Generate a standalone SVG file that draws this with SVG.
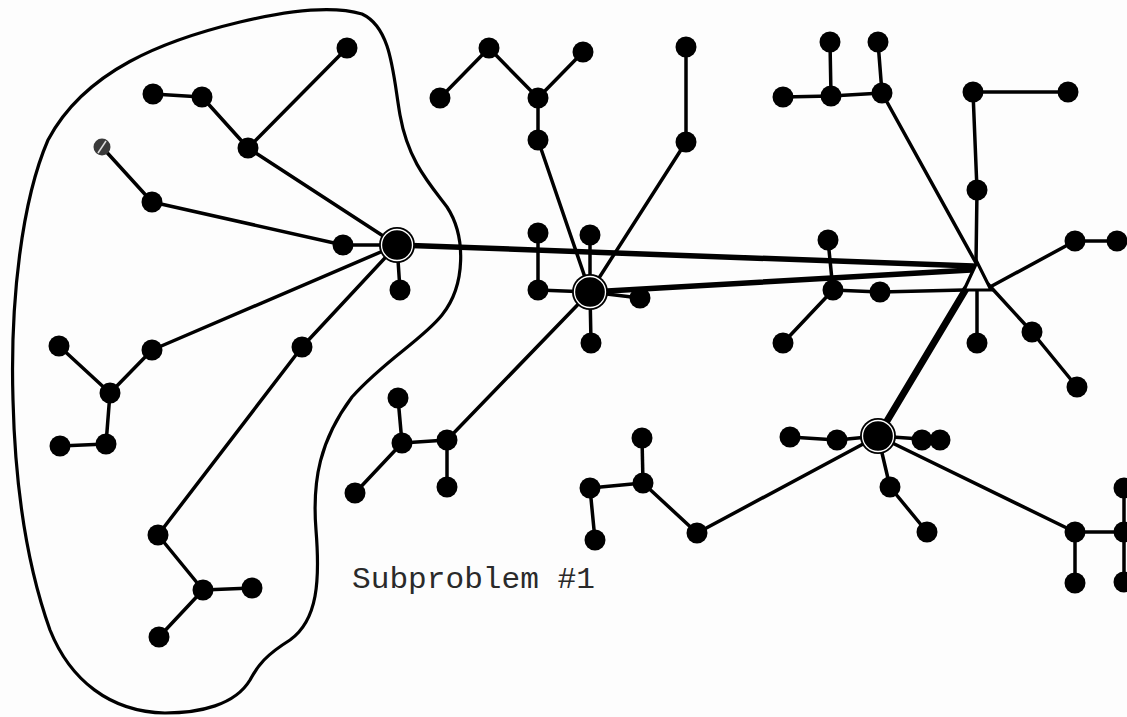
<svg xmlns="http://www.w3.org/2000/svg" width="1127" height="717" viewBox="0 0 1127 717">
  <style>
    .e { stroke: #000; stroke-width: 3.5; stroke-linecap: round; fill: none; }
    .t { stroke: #000; stroke-width: 5.5; stroke-linecap: round; fill: none; }
    .tt { stroke: #000; stroke-width: 7; stroke-linecap: round; fill: none; }
    .n { fill: #000; }
    .h { fill: #000; }
    .ring { fill: none; stroke: #fff; stroke-width: 1.3; }
    .blob { fill: none; stroke: #000; stroke-width: 3.2; }
    .lbl { font-family: "Liberation Mono", "Courier New", monospace; font-size: 30px; fill: #2a2a2a; }
  </style>
  <rect width="1127" height="717" fill="#fdfdfd"/>

  <!-- boundary of subproblem 1 -->
  <path id="subproblem-1-boundary" class="blob" d="M 13,400 C 10,300 22,200 48,140 C 85,70 165,40 240,22 C 290,10 335,6 362,14 C 392,28 393,75 400,115 C 408,160 428,182 447,207 C 466,236 466,285 442,315 C 422,340 385,360 352,397 C 320,440 312,480 316,530 C 320,580 318,620 290,640 C 266,655 258,665 250,680 C 235,705 200,713 165,713 C 110,712 70,680 50,630 C 25,560 15,480 13,400 Z"/>

  <g id="connectors">
    <!-- hub 1 tree -->
    <line class="e" x1="153" y1="94" x2="202" y2="97"/>
    <line class="e" x1="202" y1="97" x2="248" y2="148"/>
    <line class="e" x1="248" y1="148" x2="347" y2="48"/>
    <line class="e" x1="248" y1="148" x2="397" y2="245"/>
    <line class="e" x1="102" y1="147" x2="152" y2="202"/>
    <line class="e" x1="152" y1="202" x2="343" y2="245"/>
    <line class="e" x1="343" y1="245" x2="397" y2="245"/>
    <line class="e" x1="397" y1="245" x2="400" y2="290"/>
    <line class="e" x1="397" y1="245" x2="152" y2="350"/>
    <line class="e" x1="152" y1="350" x2="110" y2="393"/>
    <line class="e" x1="110" y1="393" x2="59" y2="346"/>
    <line class="e" x1="110" y1="393" x2="106" y2="444"/>
    <line class="e" x1="106" y1="444" x2="60" y2="446"/>
    <line class="e" x1="397" y1="245" x2="302" y2="347"/>
    <line class="e" x1="302" y1="347" x2="158" y2="535"/>
    <line class="e" x1="158" y1="535" x2="203" y2="590"/>
    <line class="e" x1="203" y1="590" x2="252" y2="588"/>
    <line class="e" x1="203" y1="590" x2="159" y2="637"/>

    <!-- hub 2 tree -->
    <line class="e" x1="440" y1="98" x2="489" y2="48"/>
    <line class="e" x1="489" y1="48" x2="538" y2="98"/>
    <line class="e" x1="538" y1="98" x2="583" y2="52"/>
    <line class="e" x1="538" y1="98" x2="538" y2="140"/>
    <line class="e" x1="538" y1="140" x2="590" y2="292"/>
    <line class="e" x1="686" y1="47" x2="686" y2="142"/>
    <line class="e" x1="686" y1="142" x2="590" y2="292"/>
    <line class="e" x1="538" y1="233" x2="538" y2="290"/>
    <line class="e" x1="538" y1="290" x2="590" y2="292"/>
    <line class="e" x1="590" y1="235" x2="590" y2="292"/>
    <line class="e" x1="590" y1="292" x2="640" y2="298"/>
    <line class="e" x1="590" y1="292" x2="591" y2="343"/>
    <line class="e" x1="590" y1="292" x2="447" y2="440"/>
    <line class="e" x1="447" y1="440" x2="402" y2="443"/>
    <line class="e" x1="402" y1="443" x2="398" y2="398"/>
    <line class="e" x1="402" y1="443" x2="355" y2="493"/>
    <line class="e" x1="447" y1="440" x2="447" y2="487"/>

    <!-- trunk lines into the junction -->
    <line class="t" x1="397" y1="245" x2="973" y2="266"/>
    <line class="t" x1="590" y1="292" x2="971" y2="270"/>
    <line class="tt" x1="966" y1="289" x2="878" y2="436"/>

    <!-- upper right trees -->
    <line class="e" x1="783" y1="97" x2="831" y2="96"/>
    <line class="e" x1="831" y1="96" x2="882" y2="93"/>
    <line class="e" x1="830" y1="42" x2="831" y2="96"/>
    <line class="e" x1="878" y1="42" x2="882" y2="93"/>
    <line class="e" x1="882" y1="93" x2="976" y2="263"/>
    <line class="e" x1="973" y1="92" x2="1068" y2="92"/>
    <line class="e" x1="973" y1="92" x2="977" y2="190"/>
    <line class="e" x1="977" y1="190" x2="976" y2="263"/>
    <line class="e" x1="977" y1="290" x2="977" y2="343"/>
    <line class="e" x1="990" y1="287" x2="1075" y2="241"/>
    <line class="e" x1="1075" y1="241" x2="1117" y2="241"/>
    <line class="e" x1="988" y1="284" x2="1032" y2="332"/>
    <line class="e" x1="1032" y1="332" x2="1077" y2="387"/>
    <line class="e" x1="828" y1="240" x2="833" y2="290"/>
    <line class="e" x1="833" y1="290" x2="783" y2="343"/>
    <line class="e" x1="833" y1="290" x2="880" y2="292"/>
    <line class="e" x1="880" y1="292" x2="964" y2="290"/>

    <!-- hub 4 tree -->
    <line class="e" x1="790" y1="437" x2="837" y2="440"/>
    <line class="e" x1="837" y1="440" x2="878" y2="436"/>
    <line class="e" x1="878" y1="436" x2="935" y2="440"/>
    <line class="e" x1="878" y1="436" x2="890" y2="487"/>
    <line class="e" x1="890" y1="487" x2="927" y2="532"/>
    <line class="e" x1="878" y1="436" x2="697" y2="533"/>
    <line class="e" x1="697" y1="533" x2="643" y2="483"/>
    <line class="e" x1="643" y1="483" x2="642" y2="438"/>
    <line class="e" x1="643" y1="483" x2="590" y2="488"/>
    <line class="e" x1="590" y1="488" x2="595" y2="540"/>
    <line class="e" x1="878" y1="436" x2="1075" y2="532"/>
    <line class="e" x1="1075" y1="532" x2="1075" y2="583"/>
    <line class="e" x1="1075" y1="532" x2="1124" y2="532"/>
    <line class="e" x1="1124" y1="488" x2="1124" y2="582"/>
  </g>

  <!-- junction -->
  <g id="junction">
    <polygon points="977,262 964,290 991,290" fill="#fff" stroke="#000" stroke-width="3.2" stroke-linejoin="miter"/>
  </g>

  <!-- hubs -->
  <g id="hub-1"><circle class="h" cx="397" cy="245" r="18"/><circle class="ring" cx="397" cy="245" r="15.5"/></g>
  <g id="hub-2"><circle class="h" cx="590" cy="292" r="18"/><circle class="ring" cx="590" cy="292" r="15.5"/></g>
  <g id="hub-4"><circle class="h" cx="878" cy="436" r="18"/><circle class="ring" cx="878" cy="436" r="15.5"/></g>

  <!-- nodes -->
  <g id="n-347-48"><circle class="n" cx="347" cy="48" r="10.5"/></g>
  <g id="n-153-94"><circle class="n" cx="153" cy="94" r="10.5"/></g>
  <g id="n-202-97"><circle class="n" cx="202" cy="97" r="10.5"/></g>
  <g id="n-248-148"><circle class="n" cx="248" cy="148" r="10.5"/></g>
  <g id="n-102-147"><circle cx="102" cy="147" r="8.5" fill="#3a3a3a"/><line x1="98" y1="153" x2="106" y2="141" stroke="#ddd" stroke-width="1.5"/></g>
  <g id="n-152-202"><circle class="n" cx="152" cy="202" r="10.5"/></g>
  <g id="n-343-245"><circle class="n" cx="343" cy="245" r="10.5"/></g>
  <g id="n-400-290"><circle class="n" cx="400" cy="290" r="10.5"/></g>
  <g id="n-152-350"><circle class="n" cx="152" cy="350" r="10.5"/></g>
  <g id="n-59-346"><circle class="n" cx="59" cy="346" r="10.5"/></g>
  <g id="n-110-393"><circle class="n" cx="110" cy="393" r="10.5"/></g>
  <g id="n-106-444"><circle class="n" cx="106" cy="444" r="10.5"/></g>
  <g id="n-60-446"><circle class="n" cx="60" cy="446" r="10.5"/></g>
  <g id="n-302-347"><circle class="n" cx="302" cy="347" r="10.5"/></g>
  <g id="n-158-535"><circle class="n" cx="158" cy="535" r="10.5"/></g>
  <g id="n-203-590"><circle class="n" cx="203" cy="590" r="10.5"/></g>
  <g id="n-252-588"><circle class="n" cx="252" cy="588" r="10.5"/></g>
  <g id="n-159-637"><circle class="n" cx="159" cy="637" r="10.5"/></g>

  <g id="n-440-98"><circle class="n" cx="440" cy="98" r="10.5"/></g>
  <g id="n-489-48"><circle class="n" cx="489" cy="48" r="10.5"/></g>
  <g id="n-538-98"><circle class="n" cx="538" cy="98" r="10.5"/></g>
  <g id="n-583-52"><circle class="n" cx="583" cy="52" r="10.5"/></g>
  <g id="n-538-140"><circle class="n" cx="538" cy="140" r="10.5"/></g>
  <g id="n-686-47"><circle class="n" cx="686" cy="47" r="10.5"/></g>
  <g id="n-686-142"><circle class="n" cx="686" cy="142" r="10.5"/></g>
  <g id="n-538-233"><circle class="n" cx="538" cy="233" r="10.5"/></g>
  <g id="n-590-235"><circle class="n" cx="590" cy="235" r="10.5"/></g>
  <g id="n-538-290"><circle class="n" cx="538" cy="290" r="10.5"/></g>
  <g id="n-640-298"><circle class="n" cx="640" cy="298" r="10.5"/></g>
  <g id="n-591-343"><circle class="n" cx="591" cy="343" r="10.5"/></g>
  <g id="n-447-440"><circle class="n" cx="447" cy="440" r="10.5"/></g>
  <g id="n-402-443"><circle class="n" cx="402" cy="443" r="10.5"/></g>
  <g id="n-398-398"><circle class="n" cx="398" cy="398" r="10.5"/></g>
  <g id="n-355-493"><circle class="n" cx="355" cy="493" r="10.5"/></g>
  <g id="n-447-487"><circle class="n" cx="447" cy="487" r="10.5"/></g>

  <g id="n-783-97"><circle class="n" cx="783" cy="97" r="10.5"/></g>
  <g id="n-831-96"><circle class="n" cx="831" cy="96" r="10.5"/></g>
  <g id="n-830-42"><circle class="n" cx="830" cy="42" r="10.5"/></g>
  <g id="n-878-42"><circle class="n" cx="878" cy="42" r="10.5"/></g>
  <g id="n-882-93"><circle class="n" cx="882" cy="93" r="10.5"/></g>
  <g id="n-973-92"><circle class="n" cx="973" cy="92" r="10.5"/></g>
  <g id="n-1068-92"><circle class="n" cx="1068" cy="92" r="10.5"/></g>
  <g id="n-977-190"><circle class="n" cx="977" cy="190" r="10.5"/></g>
  <g id="n-1075-241"><circle class="n" cx="1075" cy="241" r="10.5"/></g>
  <g id="n-1117-241"><circle class="n" cx="1117" cy="241" r="10.5"/></g>
  <g id="n-977-343"><circle class="n" cx="977" cy="343" r="10.5"/></g>
  <g id="n-1032-332"><circle class="n" cx="1032" cy="332" r="10.5"/></g>
  <g id="n-1077-387"><circle class="n" cx="1077" cy="387" r="10.5"/></g>
  <g id="n-828-240"><circle class="n" cx="828" cy="240" r="10.5"/></g>
  <g id="n-833-290"><circle class="n" cx="833" cy="290" r="10.5"/></g>
  <g id="n-880-292"><circle class="n" cx="880" cy="292" r="10.5"/></g>
  <g id="n-783-343"><circle class="n" cx="783" cy="343" r="10.5"/></g>

  <g id="n-790-437"><circle class="n" cx="790" cy="437" r="10.5"/></g>
  <g id="n-837-440"><circle class="n" cx="837" cy="440" r="10.5"/></g>
  <g id="n-922-440"><circle class="n" cx="922" cy="440" r="10.5"/></g>
  <g id="n-940-440"><circle class="n" cx="940" cy="440" r="10.5"/></g>
  <g id="n-890-487"><circle class="n" cx="890" cy="487" r="10.5"/></g>
  <g id="n-927-532"><circle class="n" cx="927" cy="532" r="10.5"/></g>
  <g id="n-697-533"><circle class="n" cx="697" cy="533" r="10.5"/></g>
  <g id="n-642-438"><circle class="n" cx="642" cy="438" r="10.5"/></g>
  <g id="n-643-483"><circle class="n" cx="643" cy="483" r="10.5"/></g>
  <g id="n-590-488"><circle class="n" cx="590" cy="488" r="10.5"/></g>
  <g id="n-595-540"><circle class="n" cx="595" cy="540" r="10.5"/></g>
  <g id="n-1075-532"><circle class="n" cx="1075" cy="532" r="10.5"/></g>
  <g id="n-1075-583"><circle class="n" cx="1075" cy="583" r="10.5"/></g>
  <g id="n-1124-488"><circle class="n" cx="1124" cy="488" r="10.5"/></g>
  <g id="n-1124-532"><circle class="n" cx="1124" cy="532" r="10.5"/></g>
  <g id="n-1124-582"><circle class="n" cx="1124" cy="582" r="10.5"/></g>

  <g id="label-subproblem-1">
    <text class="lbl" x="352" y="588" textLength="243" lengthAdjust="spacingAndGlyphs">Subproblem #1</text>
  </g>
</svg>
